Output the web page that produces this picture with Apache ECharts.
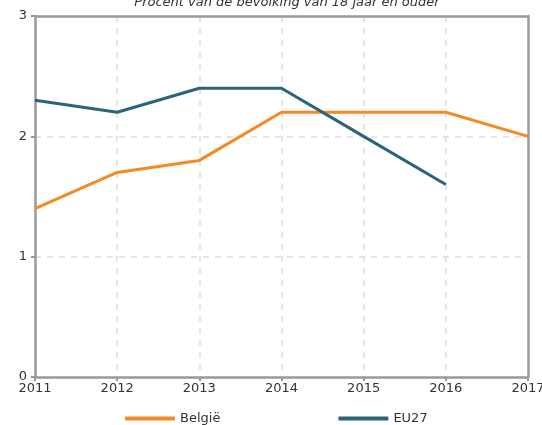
<!DOCTYPE html>
<html>
<head>
<meta charset="utf-8">
<script src="https://cdn.jsdelivr.net/npm/echarts@6/dist/echarts.min.js"></script>
<style>
  html, body { margin: 0; padding: 0; background: #fff; }
  #chart { width: 542px; height: 425px; }
</style>
</head>
<body>
<div id="chart"></div>
<script>
// jaren en waarden
var years = ['2011', '2012', '2013', '2014', '2015', '2016', '2017'];
var belgie = [1.4, 1.7, 1.8, 2.2, 2.2, 2.2, 2.0];
var eu27 = [2.3, 2.2, 2.4, 2.4, 2.0, 1.6, null];
var yTicks = [0, 1, 2, 3];

var borderAxis = { show: true, onZero: false, lineStyle: { color: '#999', width: 2.5 } };
var gridDash = { show: true, showMinLine: false, showMaxLine: false,
  lineStyle: { color: '#ddd', type: [6, 6], width: 1.5 } };

var chart = echarts.init(document.getElementById('chart'));
chart.setOption({
  animation: false,
  textStyle: { fontFamily: 'DejaVu Sans', color: '#333' },
  title: {
    text: 'Procent van de bevolking van 18 jaar en ouder',
    left: 282, textAlign: 'center', top: -9,
    textStyle: { fontSize: 13, fontStyle: 'italic', fontWeight: 'normal', color: '#333' }
  },
  legend: {
    bottom: -5, left: 120, itemGap: 118,
    itemWidth: 50, itemHeight: 4,
    icon: 'roundRect',
    textStyle: { fontSize: 13, color: '#333' },
    data: ['België', 'EU27']
  },
  grid: {
    left: 35, right: 14, top: 16, bottom: 48,
    outerBoundsMode: 'none'
  },
  xAxis: [{
    type: 'category', data: years, boundaryGap: false,
    axisLine: borderAxis,
    axisTick: { show: true, length: 4, lineStyle: { color: '#999', width: 2 } },
    axisLabel: { fontSize: 13, color: '#333', margin: 5 },
    splitLine: gridDash
  }, {
    type: 'category', data: years, boundaryGap: false, position: 'top', z: 5,
    axisLine: borderAxis, axisTick: { show: false }, axisLabel: { show: false },
    splitLine: { show: false }
  }],
  yAxis: [{
    type: 'value', min: yTicks[0], max: yTicks[yTicks.length - 1], interval: 1,
    axisLine: borderAxis,
    axisTick: { show: true, length: 4, lineStyle: { color: '#999', width: 2 } },
    axisLabel: { fontSize: 13, color: '#333', margin: 8 },
    splitLine: gridDash
  }, {
    type: 'value', min: yTicks[0], max: yTicks[yTicks.length - 1], interval: 1,
    position: 'right', z: 5,
    axisLine: borderAxis, axisTick: { show: false }, axisLabel: { show: false },
    splitLine: { show: false }
  }],
  series: [
    { name: 'België', type: 'line', data: belgie, symbol: 'none',
      lineStyle: { color: '#f58a25', width: 3 }, itemStyle: { color: '#f58a25' } },
    { name: 'EU27', type: 'line', data: eu27, symbol: 'none',
      lineStyle: { color: '#2b6479', width: 3 }, itemStyle: { color: '#2b6479' } }
  ]
});
</script>
</body>
</html>
